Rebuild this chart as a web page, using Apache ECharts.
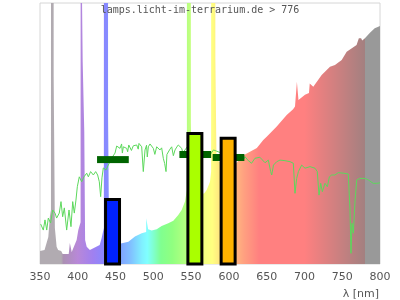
<!DOCTYPE html>
<html><head><meta charset="utf-8">
<script src="https://cdn.jsdelivr.net/npm/echarts@6/dist/echarts.min.js"></script>
<style>html,body{margin:0;padding:0;background:#fff}#c{width:400px;height:300px}</style>
</head><body><div id="c"></div>
<script>
// Lamp spectrum (wavelength nm, relative intensity 0-100, >100 clipped)
const specNm = [350,356,361,363,364.5,364.6,368,368.1,369.6,369.7,372,374,378,380,388,389.5,392,398.5,400.7,403.7,403.8,406.4,406.5,408.5,408.6,409.6,409.7,411.8,416,429,431.6,434.5,434.6,440,440.1,441.4,441.5,450,457,467,475.7,484.6,490.5,490.6,493,493.1,497.8,504.4,511,519.8,526.5,533,537.5,541.9,544.4,544.5,549.6,549.7,551,551.1,560,567.5,570.6,575,576.5,576.6,582,582.1,583.5,583.6,588,600,611,620,637,645.5,650,663,676.5,685,687.5,689.9,690,692,692.1,694,700.7,706,707,709.5,711.7,722.8,733.8,740.4,749.3,755.9,769,772,775,776.5,780,786.7,793,800];
const specVal = [5.0,5.4,10.3,18.0,20.7,150,150,71.6,71.6,13.8,6.6,5.4,5.0,3.8,3.8,8.0,4.6,9.2,13.0,16.0,150,150,77.5,77.5,50.7,50.7,9.2,6.6,5.4,7.3,10.0,13.8,150,150,56.4,56.4,9.2,7.3,7.9,8.5,10.5,11.8,12.3,17.5,17.5,13.3,12.8,13.3,14.6,15.6,16.6,18.8,20.7,23.9,28.4,150,150,54,54,30.3,26.4,27.1,28.4,31.5,35.4,150,150,79.1,79.1,39.8,39.1,36,39.1,41.8,44.4,47.5,48.8,52.6,57.1,59.3,60.3,61,69.8,69.8,62.8,62.8,64.8,65.5,69.2,69.2,67.9,72.4,75.6,76.2,78.2,81.3,83.9,86.5,86.5,85.6,86.5,88.6,90.3,91.2];
// Wavelength colour stops
const colorNm  = [350,378,381,400,420,436,455,470,485,492,500,510,525,545,565,578,590,605,620,640,700,780,780.5,800];
const colorHex = ['#b1abb1','#b1abb1','#ab90b3','#b888d8','#a080f0','#8888ff','#80a0ff','#80c0ff','#80f0ff','#80ffff','#80ffd0','#80ff90','#90ff80','#b8ff80','#f0ff80','#ffff80','#ffe080','#ffc080','#ffa080','#ff8080','#ff8080','#a38080','#999999','#999999'];
// Reference (daylight) curve
const sunNm = [350.9,354.4,356.6,358.9,361,364,366.8,369.9,372,375.5,377.8,380,382.2,385.3,388.4,391,393.3,395.4,397.6,399.4,402,405.2,408.2,411.8,414,417,420.6,423.7,426.3,428.5,430.3,432,433.8,437.4,440.4,444.9,449.3,451.5,455.9,458,459,460.3,462,464.8,466,467.5,469.1,471,473.5,476,478,480,481,482.4,484.6,486.7,489,491,492,493.4,495.6,498,500,502,504.4,506,508.8,511,513.2,515,516.8,518,519.8,522,524.3,526.5,528.7,531,533,535,537.6,539,541.9,545,550,555,560,567,573,579.6,584,600,612.5,619,621.3,625.7,630,634.5,641,647.8,652.2,655.3,656.7,659,663.3,667.6,674.2,681,685.3,687.5,689.7,692,696.3,700.7,707.4,714,717,719.3,721.5,723.7,727.2,730.3,733,736,740.4,744.8,751.4,758,760.3,761.6,763,764.7,767,769.2,773.5,780,784.6,791,795.6,800];
const sunVal = [15.3,13.0,16.9,13.0,17.6,15.7,20.7,19.5,17.6,19.5,23.9,18.1,21.5,13.0,20.7,14.3,23.9,19.5,24.5,29.6,33.4,31.5,33.4,34.8,33.4,35.4,34.1,35.4,34.1,31.5,25.8,33.0,36.8,36.0,37.9,40.6,42.5,45.2,44.3,46.0,42.5,44.9,45.5,44.3,43.0,45.6,44.9,43.5,45.3,46.0,45.6,44.0,46.2,45.6,44.9,35.4,43.7,45.5,41.0,44.9,46.0,45.8,44.3,42.0,44.9,45.5,43.7,44.5,40.5,38.5,35.4,42.0,42.4,44.0,44.9,41.5,43.7,44.8,45.6,46.0,44.3,42.5,43.7,44.9,43.7,42.9,43.7,42.5,41.0,43.7,43.2,41.4,40.5,39.8,41.1,39.6,38.6,40.5,40.9,38.8,39.8,35.4,34.1,37.9,39.2,39.8,39.6,39.2,38.6,27.1,32.8,35.4,37.9,36.7,37.3,36.7,35.4,26.4,30.9,27.7,30.9,29.6,33.4,34.1,34.1,35.0,34.8,34.5,20.7,4.1,15.6,11.8,24.5,32.2,32.8,32.8,32.2,30.9,30.9,31.1];
// Colour band bars (centre nm, value)
const barNm  = [446, 555, 599];
const barVal = [24.7, 50.0, 48.2];
// Reference marks (centre nm, value)
const markNm  = [446.5, 555.5, 599.5];
const markVal = [40.0, 42.0, 40.8];
const xTicks = [350,400,450,500,550,600,650,700,750,800];
const titleText = 'lamps.licht-im-terrarium.de > 776';
const axisName = 'λ [nm]';

const BAR_COLORS = ['#0022ff', '#aaff00', '#ffb300'];
const BAR_HALF = 9.25, MARK_HALF = 21, MARK_H = 7;

const chart = echarts.init(document.getElementById('c'), null, {renderer: 'canvas'});
const stops = colorNm.map((n, i) => ({offset: (n - 350) / 450, color: colorHex[i]}));

chart.setOption({
  animation: false,
  grid: {left: 40, right: 20, top: 3, bottom: 36, show: true, borderColor: '#d6d6d6', borderWidth: 1},
  xAxis: {
    type: 'value', min: 350, max: 800, interval: 50,
    axisLine: {show: false}, axisTick: {show: false}, splitLine: {show: false},
    axisLabel: {color: '#555', fontSize: 11, fontFamily: 'DejaVu Sans', margin: 8,
      formatter: v => xTicks.includes(v) ? String(v) : ''}
  },
  yAxis: {type: 'value', min: 0, max: 100, show: false},
  series: [
    {
      type: 'line', clip: true, symbol: 'none', silent: true, smooth: false,
      data: specNm.map((n, i) => [n, specVal[i]]),
      lineStyle: {width: 0},
      areaStyle: {opacity: 1, color: new echarts.graphic.LinearGradient(0, 0, 1, 0, stops)},
      z: 1
    },
    {
      type: 'line', clip: true, symbol: 'none', silent: true, smooth: false,
      data: sunNm.map((n, i) => [n, sunVal[i]]),
      lineStyle: {width: 1, color: '#5cd85c'},
      z: 2
    },
    {
      type: 'custom', z: 3, silent: true,
      data: markNm.map((n, i) => [n, markVal[i]]),
      renderItem: (params, api) => {
        const c = api.value(0), v = api.value(1);
        const a = api.coord([c - MARK_HALF, v]);
        const b = api.coord([c + MARK_HALF, v]);
        return {type: 'rect', shape: {x: a[0], y: a[1] - MARK_H / 2, width: b[0] - a[0], height: MARK_H},
          style: {fill: '#006400'}};
      }
    },
    {
      type: 'custom', z: 4, silent: true,
      data: barNm.map((n, i) => [n, barVal[i]]),
      renderItem: (params, api) => {
        const c = api.value(0), v = api.value(1);
        const a = api.coord([c - BAR_HALF, v]);
        const b = api.coord([c + BAR_HALF, 0]);
        return {type: 'rect', shape: {x: a[0], y: a[1], width: b[0] - a[0], height: b[1] - a[1]},
          style: {fill: BAR_COLORS[params.dataIndex], stroke: '#000', lineWidth: 3}};
      }
    }
  ],
  graphic: [
    {type: 'text', left: 'center', top: 5, z: 10,
      style: {text: titleText, font: '10px "DejaVu Sans Mono"', fill: '#555'}},
    {type: 'text', right: 21, top: 289, z: 10,
      style: {text: axisName, font: '11px "DejaVu Sans"', fill: '#555'}}
  ]
});
</script></body></html>
